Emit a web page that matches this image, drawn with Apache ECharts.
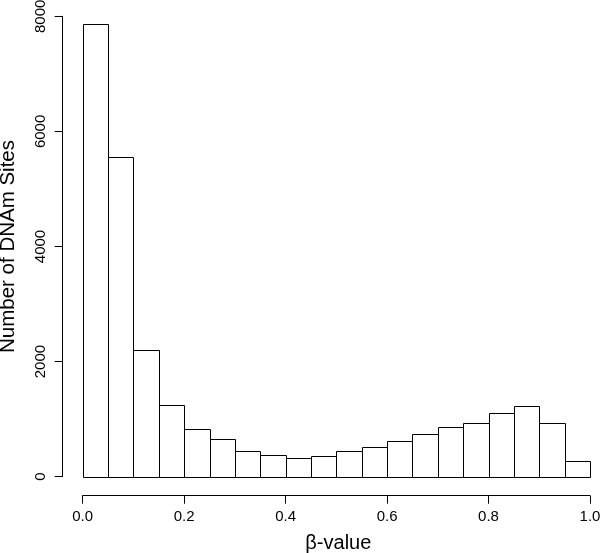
<!DOCTYPE html>
<html>
<head>
<meta charset="utf-8">
<script src="https://cdn.jsdelivr.net/npm/echarts@6/dist/echarts.min.js"></script>
<style>html,body{margin:0;padding:0;background:#fff}#c{width:600px;height:553px}</style>
</head>
<body>
<div id="c"></div>
<script>
var binEdges = [0,0.05,0.1,0.15,0.2,0.25,0.3,0.35,0.4,0.45,0.5,0.55,0.6,0.65,0.7,0.75,0.8,0.85,0.9,0.95,1.0];
var counts = [7872,5560,2196,1246,834,650,441,372,325,360,441,511,615,737,858,938,1102,1223,938,278];
var xTicks = [0,0.2,0.4,0.6,0.8,1.0];
var yTicks = [0,2000,4000,6000,8000];
var xTitle = 'β-value';
var yTitle = 'Number of DNAm Sites';

var data = counts.map(function(c,i){ return [binEdges[i], binEdges[i+1], c]; });
var chart = echarts.init(document.getElementById('c'), null, {renderer:'canvas'});
var font = 'Liberation Sans, Arial, Helvetica, sans-serif';
var xMin = xTicks[0], xMax = xTicks[xTicks.length-1];
var yMin = yTicks[0], yMax = yTicks[yTicks.length-1];
chart.setOption({
  backgroundColor:'#fff',
  animation:false,
  grid:{left:82.7, right:10, top:16.3, bottom:76.3, containLabel:false, outerBoundsMode:'none'},
  xAxis:{
    type:'value', min:xMin, max:xMax, interval:0.2, offset:19,
    axisLine:{show:true, onZero:false, lineStyle:{color:'#000', width:1}},
    axisTick:{show:true, length:8, lineStyle:{color:'#000', width:1}},
    splitLine:{show:false},
    axisLabel:{fontFamily:font, fontSize:15, color:'#000', margin:14,
      formatter:function(v){ return v.toFixed(1); }},
    name:xTitle, nameLocation:'middle', nameGap:38,
    nameTextStyle:{fontFamily:font, fontSize:20, color:'#000', padding:[0,0,0,4]}
  },
  yAxis:{
    type:'value', min:yMin, max:yMax, interval:2000, offset:20,
    axisLine:{show:true, onZero:false, lineStyle:{color:'#000', width:1}},
    axisTick:{show:true, length:8, lineStyle:{color:'#000', width:1}},
    splitLine:{show:false},
    axisLabel:{fontFamily:font, fontSize:15, color:'#000', margin:14, rotate:90,
      formatter:function(v){ return String(v); }},
    name:yTitle, nameLocation:'middle', nameGap:44, nameRotate:90,
    nameTextStyle:{fontFamily:font, fontSize:20.5, color:'#000'}
  },
  series:[{
    type:'custom',
    data:data,
    encode:{x:[0,1], y:2},
    clip:false,
    renderItem:function(params, api){
      var p0 = api.coord([api.value(0), 0]);
      var p1 = api.coord([api.value(1), api.value(2)]);
      return {
        type:'rect',
        shape:{x:Math.round(p0[0])+0.5, y:Math.round(p1[1])+0.5,
               width:Math.round(p1[0])-Math.round(p0[0]), height:Math.round(p0[1])-Math.round(p1[1])},
        style:{fill:'#fff', stroke:'#000', lineWidth:1}
      };
    }
  }]
});
</script>
</body>
</html>
